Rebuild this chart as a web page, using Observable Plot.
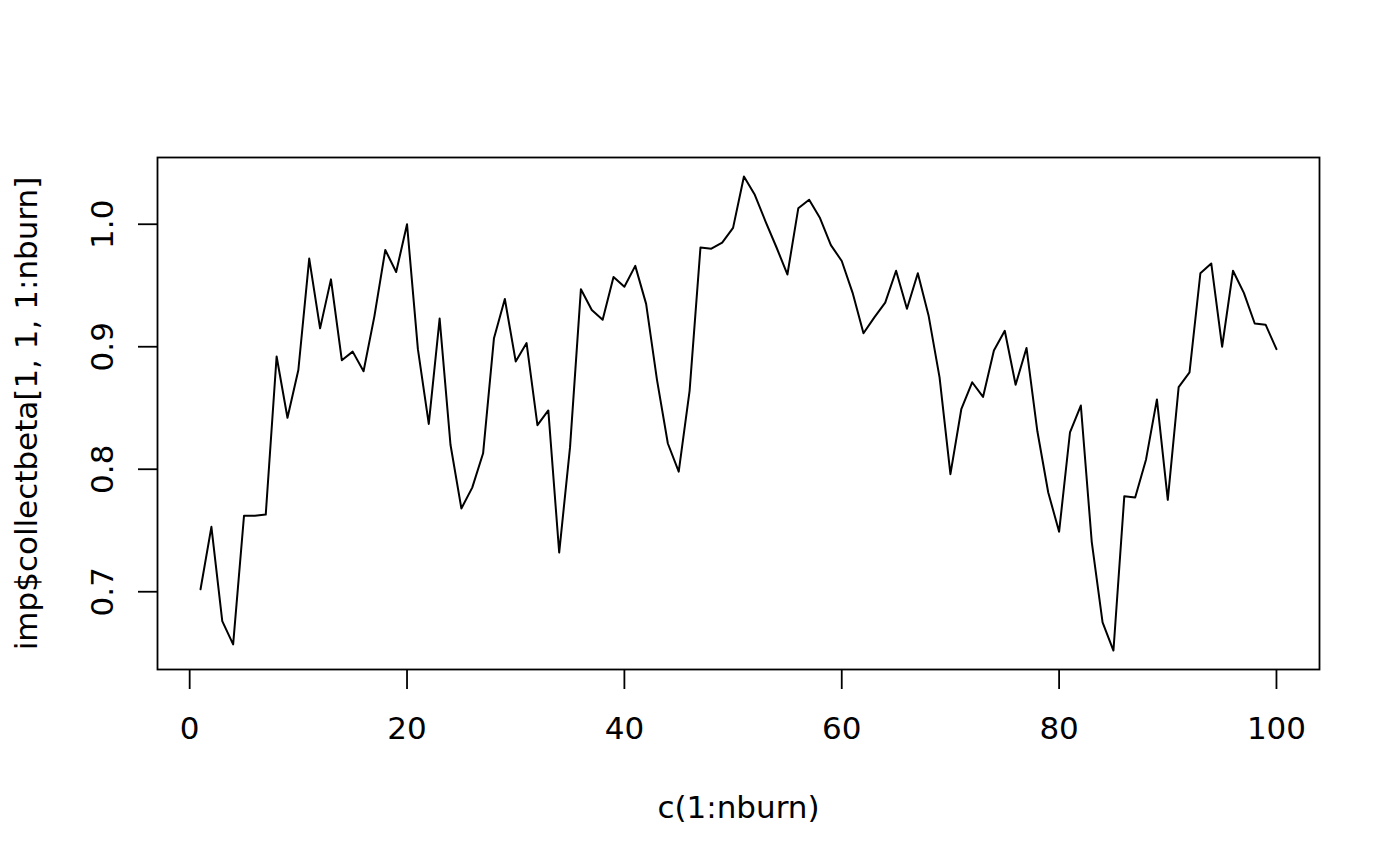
<!DOCTYPE html>
<html>
<head>
<meta charset="utf-8">
<script src="https://cdn.jsdelivr.net/npm/d3@7"></script>
<script src="https://cdn.jsdelivr.net/npm/@observablehq/plot@0.6"></script>
<style>
  body { margin: 0; background: #fff; }
</style>
</head>
<body>
<div id="chart"></div>
<script>
"use strict";

// c(1:nburn)
const burnIndex = d3.range(1, 101);

// imp$collectbeta[1, 1, 1:nburn]
const betaTrace = [
  0.702, 0.753, 0.676, 0.657, 0.762, 0.762, 0.763, 0.892, 0.842, 0.881,
  0.972, 0.915, 0.955, 0.889, 0.896, 0.880, 0.925, 0.979, 0.961, 1.000,
  0.898, 0.837, 0.923, 0.820, 0.768, 0.785, 0.813, 0.907, 0.939, 0.888,
  0.903, 0.836, 0.848, 0.732, 0.818, 0.947, 0.930, 0.922, 0.957, 0.949,
  0.966, 0.935, 0.873, 0.821, 0.798, 0.864, 0.981, 0.980, 0.985, 0.997,
  1.039, 1.024, 1.002, 0.981, 0.959, 1.013, 1.020, 1.005, 0.983, 0.970,
  0.944, 0.911, 0.924, 0.936, 0.962, 0.931, 0.960, 0.925, 0.875, 0.796,
  0.849, 0.871, 0.859, 0.897, 0.913, 0.869, 0.899, 0.831, 0.781, 0.749,
  0.830, 0.852, 0.741, 0.675, 0.652, 0.778, 0.777, 0.808, 0.857, 0.775,
  0.867, 0.879, 0.960, 0.968, 0.900, 0.962, 0.944, 0.919, 0.918, 0.898,
];

const xTicks = [0, 20, 40, 60, 80, 100];
const yTicks = [0.7, 0.8, 0.9, 1.0];
const xTitle = "c(1:nburn)";
const yTitle = "imp$collectbeta[1, 1, 1:nburn]";

const rows = burnIndex.map((i, k) => ({ iter: i, beta: betaTrace[k] }));

// base R pads each axis range by 4%
function pad(ext) {
  const d = (ext[1] - ext[0]) * 0.04;
  return [ext[0] - d, ext[1] + d];
}

const chart = Plot.plot({
  width: 1400, height: 866,
  marginLeft: 157, marginRight: 81, marginTop: 157, marginBottom: 197,
  style: { fontFamily: "DejaVu Sans", fontSize: "31px", color: "#000", background: "#fff" },
  x: { domain: pad(d3.extent(burnIndex)) },
  y: { domain: pad(d3.extent(betaTrace)) },
  marks: [
    Plot.frame({ stroke: "#000", strokeWidth: 1.8 }),
    Plot.axisX({ ticks: xTicks, tickSize: 20, tickPadding: 27, strokeWidth: 1.8, label: null }),
    Plot.axisY({ ticks: yTicks, tickSize: 19, tickPadding: 26, tickRotate: -90,
      tickFormat: d3.format(".1f"), strokeWidth: 1.8, label: null }),
    Plot.line(rows, { x: "iter", y: "beta", stroke: "#000", strokeWidth: 2 }),
    Plot.text([xTitle], { frameAnchor: "bottom", dy: 148, lineAnchor: "bottom", fill: "#000" }),
    Plot.text([yTitle], { frameAnchor: "left", dx: -121, rotate: -90, lineAnchor: "bottom",
      textAnchor: "middle", fill: "#000" }),
  ],
});

document.getElementById("chart").appendChild(chart);
</script>
</body>
</html>
